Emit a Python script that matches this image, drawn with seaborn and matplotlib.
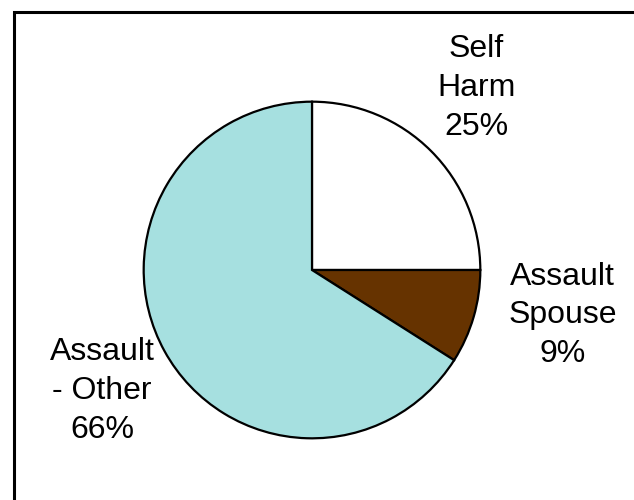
import matplotlib
matplotlib.use("Agg")
import matplotlib.pyplot as plt
import seaborn as sns

sns.set_style("white")
plt.rcParams['font.family'] = ['Liberation Sans', 'DejaVu Sans']

# data
categories = ['Self\nHarm', 'Assault\nSpouse', 'Assault\n- Other']
shares = [25, 9, 66]
slice_colors = ['#FFFFFF', '#663300', '#A6E0E0']
# where each label sits (axes data units, pie radius = 1)
label_pos = [(0.976, 1.08), (1.49, -0.27), (-1.247, -0.72)]

fig = plt.figure(figsize=(6.34, 5.0), dpi=100)

# outer frame (only top and left edges are inside the picture)
frame = plt.Rectangle((14 / 634, -0.05), 1.2, 1 - 12 / 500 + 0.05,
                      transform=fig.transFigure, fill=False,
                      edgecolor='black', linewidth=2.2)
fig.patches.append(frame)

ax = fig.add_axes([(312 - 170) / 634, (500 - 440) / 500, 340 / 634, 340 / 500])
wedges, _ = ax.pie(shares, colors=slice_colors, startangle=90, counterclock=False,
                   radius=1, wedgeprops=dict(edgecolor='black', linewidth=1.6))
ax.set_xlim(-1.01, 1.01)
ax.set_ylim(-1.01, 1.01)
ax.set_aspect('equal')
ax.axis('off')

for name, val, (x, y) in zip(categories, shares, label_pos):
    ax.text(x, y, f"{name}\n{val}%", ha='center', va='center', fontsize=23,
            linespacing=1.38, color='black', clip_on=False)

plt.savefig("out.png", dpi=100)
